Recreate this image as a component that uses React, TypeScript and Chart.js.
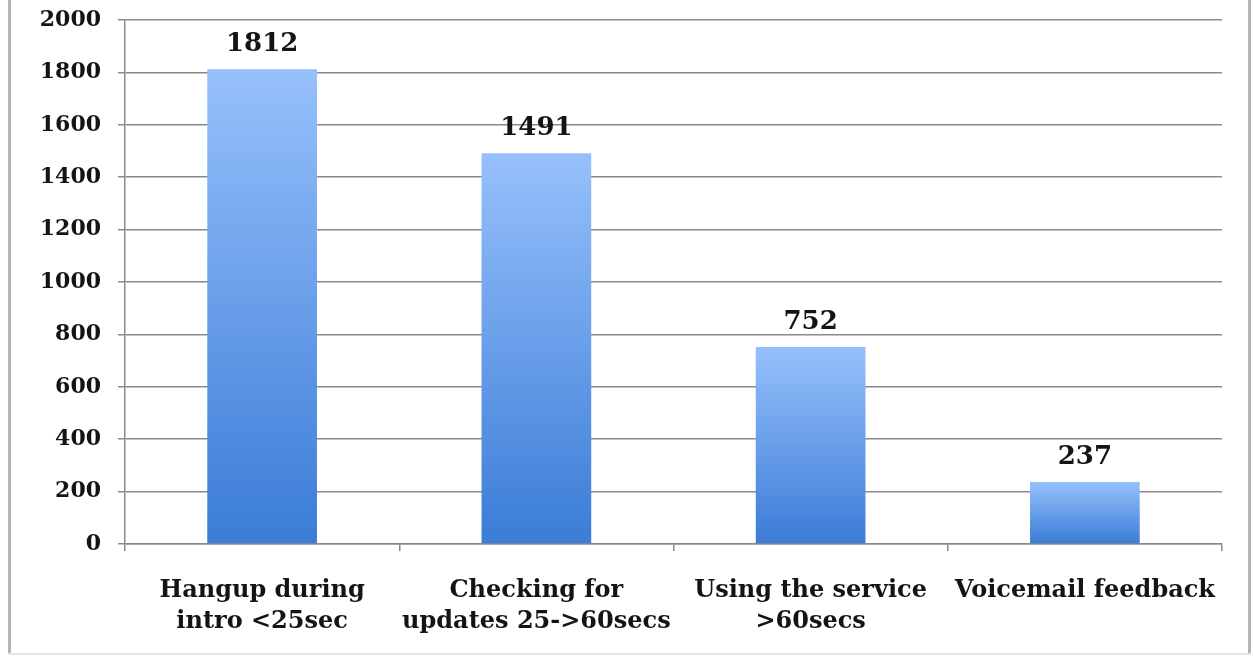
import React, { useEffect, useRef } from "react";
import { Chart, registerables } from "chart.js";

Chart.register(...registerables);

const categories: string[][] = [
  ["Hangup during", "intro <25sec"],
  ["Checking for", "updates 25->60secs"],
  ["Using the service", ">60secs"],
  ["Voicemail feedback"],
];
const callCounts: number[] = [1812, 1491, 752, 237];
const yMin = 0;
const yMax = 2000;
const yStep = 200;

const FONT = "'DejaVu Serif', serif";

const framePlugin = {
  id: "frame",
  beforeDraw(chart: any) {
    const c = chart.ctx;
    c.save();
    c.fillStyle = "#ffffff";
    c.fillRect(0, 0, chart.width, chart.height);
    c.fillStyle = "#b4b4b4";
    c.fillRect(8, 0, 3, 655);
    c.fillRect(1248, 0, 3, 655);
    c.fillStyle = "#e6e6e6";
    c.fillRect(8, 653, 1243, 2);
    c.restore();
  },
};

const labelPlugin = {
  id: "barLabels",
  afterDatasetsDraw(chart: any) {
    const c = chart.ctx;
    const meta = chart.getDatasetMeta(0);
    c.save();
    c.font = `bold 26px ${FONT}`;
    c.fillStyle = "#141414";
    c.textAlign = "center";
    c.textBaseline = "alphabetic";
    meta.data.forEach((bar: any, i: number) => {
      c.fillText(String(callCounts[i]), bar.x, bar.y - 18);
    });
    c.restore();
  },
};

const zeroPad = (s: any) => {
  s.paddingTop = 0;
  s.paddingBottom = 0;
  s.paddingLeft = 0;
  s.paddingRight = 0;
};

export default function App() {
  const ref = useRef<HTMLCanvasElement>(null);
  useEffect(() => {
    const chart = new Chart(ref.current!, {
      type: "bar",
      data: {
        labels: categories,
        datasets: [
          {
            data: callCounts,
            barPercentage: 0.4,
            categoryPercentage: 1,
            backgroundColor: (ctx: any) => {
              const ch = ctx.chart;
              if (!ch.chartArea || ctx.dataIndex === undefined) return "#5b95e6";
              const y = ch.scales.y;
              const top = y.getPixelForValue(callCounts[ctx.dataIndex]);
              const bottom = y.getPixelForValue(0);
              const g = ch.ctx.createLinearGradient(0, top, 0, bottom);
              g.addColorStop(0, "#96c0fb");
              g.addColorStop(1, "#3b7cd7");
              return g;
            },
            borderWidth: 0,
          },
        ],
      },
      options: {
        animation: false,
        responsive: false,
        maintainAspectRatio: false,
        layout: { padding: { top: 20, right: 31, bottom: 0, left: 0 } },
        plugins: { legend: { display: false }, tooltip: { enabled: false } },
        scales: {
          x: {
            grid: {
              offset: true,
              drawOnChartArea: false,
              drawTicks: true,
              tickLength: 7,
              color: "#8a8a8a",
              lineWidth: 1.5,
            },
            border: { color: "#8a8a8a", width: 1.5 },
            ticks: {
              color: "#141414",
              font: { family: FONT, weight: "bold", size: 24, lineHeight: 1.3 },
              padding: 24,
              maxRotation: 0,
              autoSkip: false,
            },
            afterFit: (s: any) => {
              s.height = 120;
              zeroPad(s);
            },
          },
          y: {
            min: yMin,
            max: yMax,
            ticks: {
              stepSize: yStep,
              color: "#141414",
              font: { family: FONT, weight: "bold", size: 22 },
              padding: 17,
              callback: (v: any) => String(v),
            },
            grid: {
              color: "#8a8a8a",
              lineWidth: 1.5,
              tickLength: 7,
            },
            border: { color: "#8a8a8a", width: 1.5 },
            afterFit: (s: any) => {
              s.width = 125;
              zeroPad(s);
            },
          },
        },
      },
      plugins: [framePlugin, labelPlugin],
    });
    return () => chart.destroy();
  }, []);
  return (
    <div style={{ position: "absolute", left: 0, top: 0, width: 1253, height: 664 }}>
      <canvas ref={ref} width={1253} height={664} style={{ display: "block" }} />
    </div>
  );
}
